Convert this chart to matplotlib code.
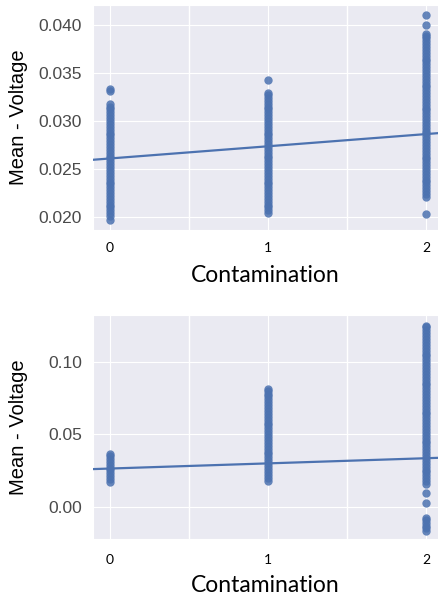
import numpy as np
import matplotlib
matplotlib.use("Agg")
import matplotlib.pyplot as plt
import matplotlib.transforms as mtransforms
import seaborn as sns

# values (Mean - Voltage per contamination level)
contamination = [0, 1, 2]

top_c0 = [0.0197, 0.0201, 0.0204, 0.0207, 0.0210, 0.0213, 0.0216, 0.0219, 0.0222, 0.0225,
          0.0228, 0.0231, 0.0234, 0.0237, 0.0240, 0.0243, 0.0246, 0.0249, 0.0252, 0.0255,
          0.0258, 0.0261, 0.0264, 0.0267, 0.0270, 0.0273, 0.0276, 0.0279, 0.0282, 0.0285,
          0.0288, 0.0291, 0.0294, 0.0297, 0.0300, 0.0303, 0.0306, 0.0309, 0.0312, 0.0315,
          0.0318, 0.0331, 0.0333]
top_c1 = [0.0204, 0.0207, 0.0210, 0.0213, 0.0216, 0.0219, 0.0222, 0.0225, 0.0228, 0.0231,
          0.0234, 0.0237, 0.0240, 0.0243, 0.0246, 0.0249, 0.0252, 0.0255, 0.0258, 0.0261,
          0.0264, 0.0267, 0.0270, 0.0273, 0.0276, 0.0279, 0.0282, 0.0285, 0.0288, 0.0291,
          0.0294, 0.0297, 0.0300, 0.0303, 0.0306, 0.0309, 0.0312, 0.0315, 0.0318, 0.0321,
          0.0324, 0.0327, 0.0329, 0.0343]
top_c2 = [0.0203, 0.0221, 0.0224, 0.0227, 0.0230, 0.0233, 0.0236, 0.0239, 0.0242, 0.0245,
          0.0248, 0.0251, 0.0254, 0.0257, 0.0260, 0.0263, 0.0266, 0.0269, 0.0272, 0.0275,
          0.0278, 0.0281, 0.0284, 0.0287, 0.0290, 0.0293, 0.0296, 0.0299, 0.0302, 0.0305,
          0.0308, 0.0311, 0.0314, 0.0317, 0.0320, 0.0323, 0.0326, 0.0329, 0.0332, 0.0335,
          0.0338, 0.0341, 0.0344, 0.0347, 0.0350, 0.0353, 0.0356, 0.0359, 0.0362, 0.0365,
          0.0368, 0.0371, 0.0374, 0.0377, 0.0380, 0.0383, 0.0386, 0.0389, 0.0391, 0.0400,
          0.0410]
top_fit = (0.0261, 0.00127)  # intercept, slope of the drawn regression line

bot_c0 = [0.0170, 0.0190, 0.0210, 0.0230, 0.0250, 0.0270, 0.0290, 0.0310, 0.0330, 0.0350,
          0.0360]
bot_c1 = [0.0180, 0.0200, 0.0220, 0.0240, 0.0260, 0.0280, 0.0300, 0.0320, 0.0340, 0.0360,
          0.0380, 0.0400, 0.0420, 0.0440, 0.0460, 0.0480, 0.0500, 0.0520, 0.0540, 0.0560,
          0.0580, 0.0600, 0.0620, 0.0640, 0.0660, 0.0680, 0.0700, 0.0720, 0.0740, 0.0760,
          0.0780, 0.0800, 0.0815]
bot_c2 = [-0.0166, -0.0148, -0.0130, -0.0112, -0.0094, -0.0076, 0.0028, 0.0097,
          0.0156, 0.0176, 0.0196, 0.0216, 0.0236, 0.0256, 0.0276, 0.0296, 0.0316, 0.0336,
          0.0356, 0.0376, 0.0396, 0.0416, 0.0436, 0.0456, 0.0476, 0.0496, 0.0516, 0.0536,
          0.0556, 0.0576, 0.0596, 0.0616, 0.0636, 0.0656, 0.0676, 0.0696, 0.0716, 0.0736,
          0.0756, 0.0776, 0.0796, 0.0816, 0.0836, 0.0856, 0.0876, 0.0896, 0.0916, 0.0936,
          0.0956, 0.0976, 0.0996, 0.1016, 0.1036, 0.1056, 0.1076, 0.1096, 0.1116, 0.1136,
          0.1156, 0.1176, 0.1196, 0.1216, 0.1236, 0.1245]
bot_fit = (0.0263, 0.00356)

BLUE = "#4C72B0"
# the pasted x tick labels sit slightly off the data positions (pixels)
xtick_shift = [5, -3, -11]

sns.set_style("darkgrid")
plt.rcParams['font.family'] = ['Liberation Sans', 'DejaVu Sans']

fig = plt.figure(figsize=(4.39, 5.97), dpi=100)

def panel(rect, groups, fit, ylim, yticks, yfmt, xlab_y, tickpad):
    ax = fig.add_axes(rect)
    for c, vals in zip(contamination, groups):
        ax.scatter([c] * len(vals), vals, s=36, color=BLUE, alpha=0.85, linewidths=0, zorder=2)
    xlim = (-0.108, 2.1)
    xs = np.array(xlim)
    ax.plot(xs, fit[0] + fit[1] * xs, color=BLUE, lw=1.6, zorder=3)
    ax.set_xlim(*xlim)
    ax.set_ylim(*ylim)
    ax.set_xticks(contamination)
    ax.set_xticklabels([str(c) for c in contamination], family='Lato', fontsize=10, color='black')
    for lab, dx in zip(ax.get_xticklabels(), xtick_shift):
        lab.set_transform(lab.get_transform() + mtransforms.ScaledTranslation(dx / 100, 0, fig.dpi_scale_trans))
    ax.set_xticks([0.5, 1.5], minor=True)
    ax.grid(True, which='minor', axis='x', color='white', lw=1)
    ax.set_yticks(yticks)
    ax.set_yticklabels([yfmt.format(v) for v in yticks], fontsize=12.5, color='#4a4a4a')
    ax.tick_params(axis='x', pad=tickpad, length=0, which='both')
    ax.tick_params(axis='y', pad=8, length=0)
    ax.set_ylabel('Mean - Voltage', fontsize=14.5, color='black')
    ax.yaxis.set_label_coords(-0.185, 0.5)
    ax.set_xlabel('Contamination', family='Lato', fontsize=16.5, color='black')
    ax.xaxis.label.set_va('center')
    ax.xaxis.set_label_coords(0.493, xlab_y)
    return ax

panel([93 / 439, (597 - 230) / 597, 349 / 439, 225 / 597],
      [top_c0, top_c1, top_c2], top_fit, (0.01865, 0.04208),
      [0.020, 0.025, 0.030, 0.035, 0.040], '{:.3f}', -0.204, 9)

panel([93 / 439, (597 - 539) / 597, 349 / 439, 224 / 597],
      [bot_c0, bot_c1, bot_c2], bot_fit, (-0.0223, 0.1322),
      [0.00, 0.05, 0.10], '{:.2f}', -0.206, 11)

fig.savefig('out.png', dpi=100)
